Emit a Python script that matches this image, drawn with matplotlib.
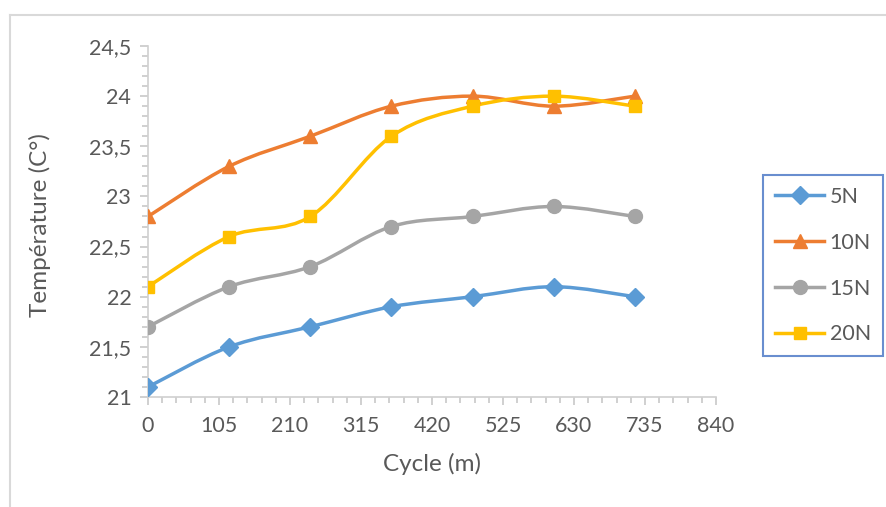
import matplotlib
matplotlib.use('Agg')
import matplotlib.pyplot as plt
from matplotlib.path import Path
from matplotlib.patches import PathPatch
from matplotlib.lines import Line2D
from matplotlib.ticker import MultipleLocator

# Temperature vs cycle for each load
cycle = [0, 120, 240, 360, 480, 600, 720]
temp_5n = [21.1, 21.5, 21.7, 21.9, 22.0, 22.1, 22.0]
temp_10n = [22.8, 23.3, 23.6, 23.9, 24.0, 23.9, 24.0]
temp_15n = [21.7, 22.1, 22.3, 22.7, 22.8, 22.9, 22.8]
temp_20n = [22.1, 22.6, 22.8, 23.6, 23.9, 24.0, 23.9]

labels = ['5N', '10N', '15N', '20N']
colors = ['#5B9BD5', '#ED7D31', '#A5A5A5', '#FFC000']
markers = ['D', '^', 'o', 's']
msizes = [9, 10, 10, 9]

xticks = [0, 105, 210, 315, 420, 525, 630, 735, 840]
yticks = [21, 21.5, 22, 22.5, 23, 23.5, 24, 24.5]
ytick_labels = ['21', '21,5', '22', '22,5', '23', '23,5', '24', '24,5']

plt.rcParams['font.family'] = ['Lato', 'DejaVu Sans']
text_col = '#595959'


def smooth_path(xs, ys):
    """Catmull-Rom style bezier through the points (like office smoothed lines)."""
    pts = list(zip(xs, ys))
    verts = [pts[0]]
    codes = [Path.MOVETO]
    n = len(pts)
    for i in range(n - 1):
        p0 = pts[i - 1] if i > 0 else pts[i]
        p1 = pts[i]
        p2 = pts[i + 1]
        p3 = pts[i + 2] if i + 2 < n else pts[i + 1]
        c1 = (p1[0] + (p2[0] - p0[0]) / 6, p1[1] + (p2[1] - p0[1]) / 6)
        c2 = (p2[0] - (p3[0] - p1[0]) / 6, p2[1] - (p3[1] - p1[1]) / 6)
        verts += [c1, c2, p2]
        codes += [Path.CURVE4] * 3
    return Path(verts, codes)


fig = plt.figure(figsize=(8.87, 5.07), dpi=100)
ax = fig.add_axes([148 / 887, 1 - 397 / 507, 568 / 887, 351 / 507])

series = [temp_5n, temp_10n, temp_15n, temp_20n]
handles = []
for vals, lab, col, mk, ms in zip(series, labels, colors, markers, msizes):
    ax.add_patch(PathPatch(smooth_path(cycle, vals), facecolor='none',
                           edgecolor=col, lw=2.5, zorder=2, capstyle='round'))
    ax.plot(cycle, vals, ls='none', marker=mk, ms=ms, color=col,
            markeredgecolor=col, zorder=3)
    handles.append(Line2D([], [], color=col, lw=2.5, marker=mk, ms=ms,
                          markeredgecolor=col, label=lab))

ax.set_xlim(0, 840)
ax.set_ylim(21, 24.5)
ax.set_xticks(xticks)
ax.set_yticks(yticks)
ax.set_yticklabels(ytick_labels)
ax.xaxis.set_minor_locator(MultipleLocator(21))
ax.yaxis.set_minor_locator(MultipleLocator(0.1))

for side in ['top', 'right']:
    ax.spines[side].set_visible(False)
for side in ['left', 'bottom']:
    ax.spines[side].set_color('#D0D0D0')
    ax.spines[side].set_linewidth(1.2)

ax.tick_params(which='major', length=6, width=1.2, color='#C8C8C8',
               labelsize=15.5, labelcolor=text_col)
ax.tick_params(which='minor', length=4, width=1.2, color='#C8C8C8')
ax.tick_params(axis='y', which='major', pad=6)
ax.tick_params(axis='x', which='major', pad=8)

ax.set_xlabel('Cycle (m)', fontsize=17.5, color=text_col, labelpad=12)
ax.set_ylabel('Température (C°)', fontsize=17.5, color=text_col)
ax.yaxis.set_label_coords(-0.17, 0.49)

leg = fig.legend(handles=handles, loc='upper left',
                 bbox_to_anchor=(763 / 887, 1 - 175 / 507),
                 frameon=True, fancybox=False, fontsize=15.5,
                 handlelength=2.3, handletextpad=0.25, labelspacing=1.2,
                 borderpad=0.55, borderaxespad=0)
leg.get_frame().set_edgecolor('#4472C4')
leg.get_frame().set_linewidth(1.5)
for t in leg.get_texts():
    t.set_color(text_col)

# outer chart frame (top and left edges)
fig.add_artist(Line2D([10 / 887, 10 / 887], [0, 1 - 15 / 507],
                      transform=fig.transFigure, color='#D9D9D9', lw=1.5))
fig.add_artist(Line2D([10 / 887, 1], [1 - 15 / 507, 1 - 15 / 507],
                      transform=fig.transFigure, color='#D9D9D9', lw=1.5))

fig.savefig('out.png', dpi=100)
plt.close('all')
